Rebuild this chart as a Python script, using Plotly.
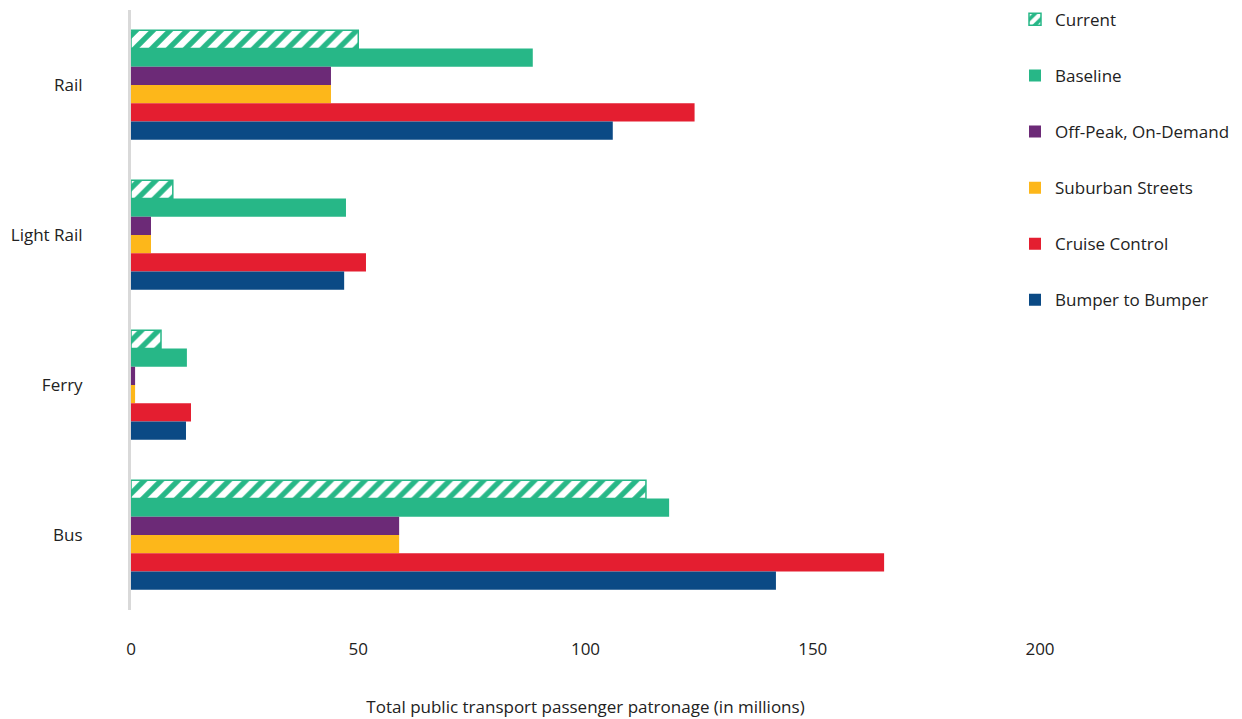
import plotly.graph_objects as go

categories = ["Rail", "Light Rail", "Ferry", "Bus"]
series_names = ["Current", "Baseline", "Off-Peak, On-Demand", "Suburban Streets",
                "Cruise Control", "Bumper to Bumper"]
current = [50, 9.2, 6.6, 113.3]
baseline = [88.4, 47.3, 12.3, 118.4]
off_peak = [44, 4.4, 0.9, 59]
suburban = [44, 4.4, 0.9, 59]
cruise = [124, 51.7, 13.2, 165.7]
bumper = [106, 46.9, 12.1, 141.9]
x_ticks = [0, 50, 100, 150, 200]

values = [current, baseline, off_peak, suburban, cruise, bumper]
colors = ["#27B787", "#27B787", "#6C2A77", "#FDB71A", "#E41E30", "#0B4A85"]

FONT = "Open Sans"
FS = 17
fig = go.Figure()
for i, (name, vals, col) in enumerate(zip(series_names, values, colors)):
    marker = dict(color=col, line=dict(width=0))
    if i == 0:
        marker = dict(color=col, line=dict(color=col, width=1.5),
                      pattern=dict(shape="/", fgcolor="white", bgcolor=col, fgopacity=1,
                                   size=12, solidity=0.55, fillmode="replace"))
    fig.add_trace(go.Bar(y=categories, x=vals, orientation="h", name=name,
                         marker=marker, legendgroup=str(i)))

fig.update_layout(
    width=1242, height=719,
    barmode="group", bargap=0.27, bargroupgap=0,
    plot_bgcolor="white", paper_bgcolor="white",
    margin=dict(l=123, r=210, t=2, b=117, autoexpand=False),
    font=dict(family=FONT, size=FS, color="#222222"),
    legend=dict(x=0.9725, y=1.0137, xanchor="left", yanchor="top",
                traceorder="grouped", tracegroupgap=31,
                font=dict(size=FS, family=FONT), bgcolor="rgba(0,0,0,0)"),
    xaxis=dict(range=[0, 200], tickvals=x_ticks, showgrid=False, zeroline=False,
               showline=False, ticks="", ticklabelstandoff=27,
               title=dict(text="Total public transport passenger patronage (in millions)",
                          font=dict(size=FS, family=FONT), standoff=42)),
    yaxis=dict(categoryorder="array", categoryarray=categories, autorange="reversed",
               showgrid=False, zeroline=False, showline=True, linecolor="#D9D9D9",
               linewidth=3, ticks="", ticklabelstandoff=42),
)
fig.write_html("out.html")
